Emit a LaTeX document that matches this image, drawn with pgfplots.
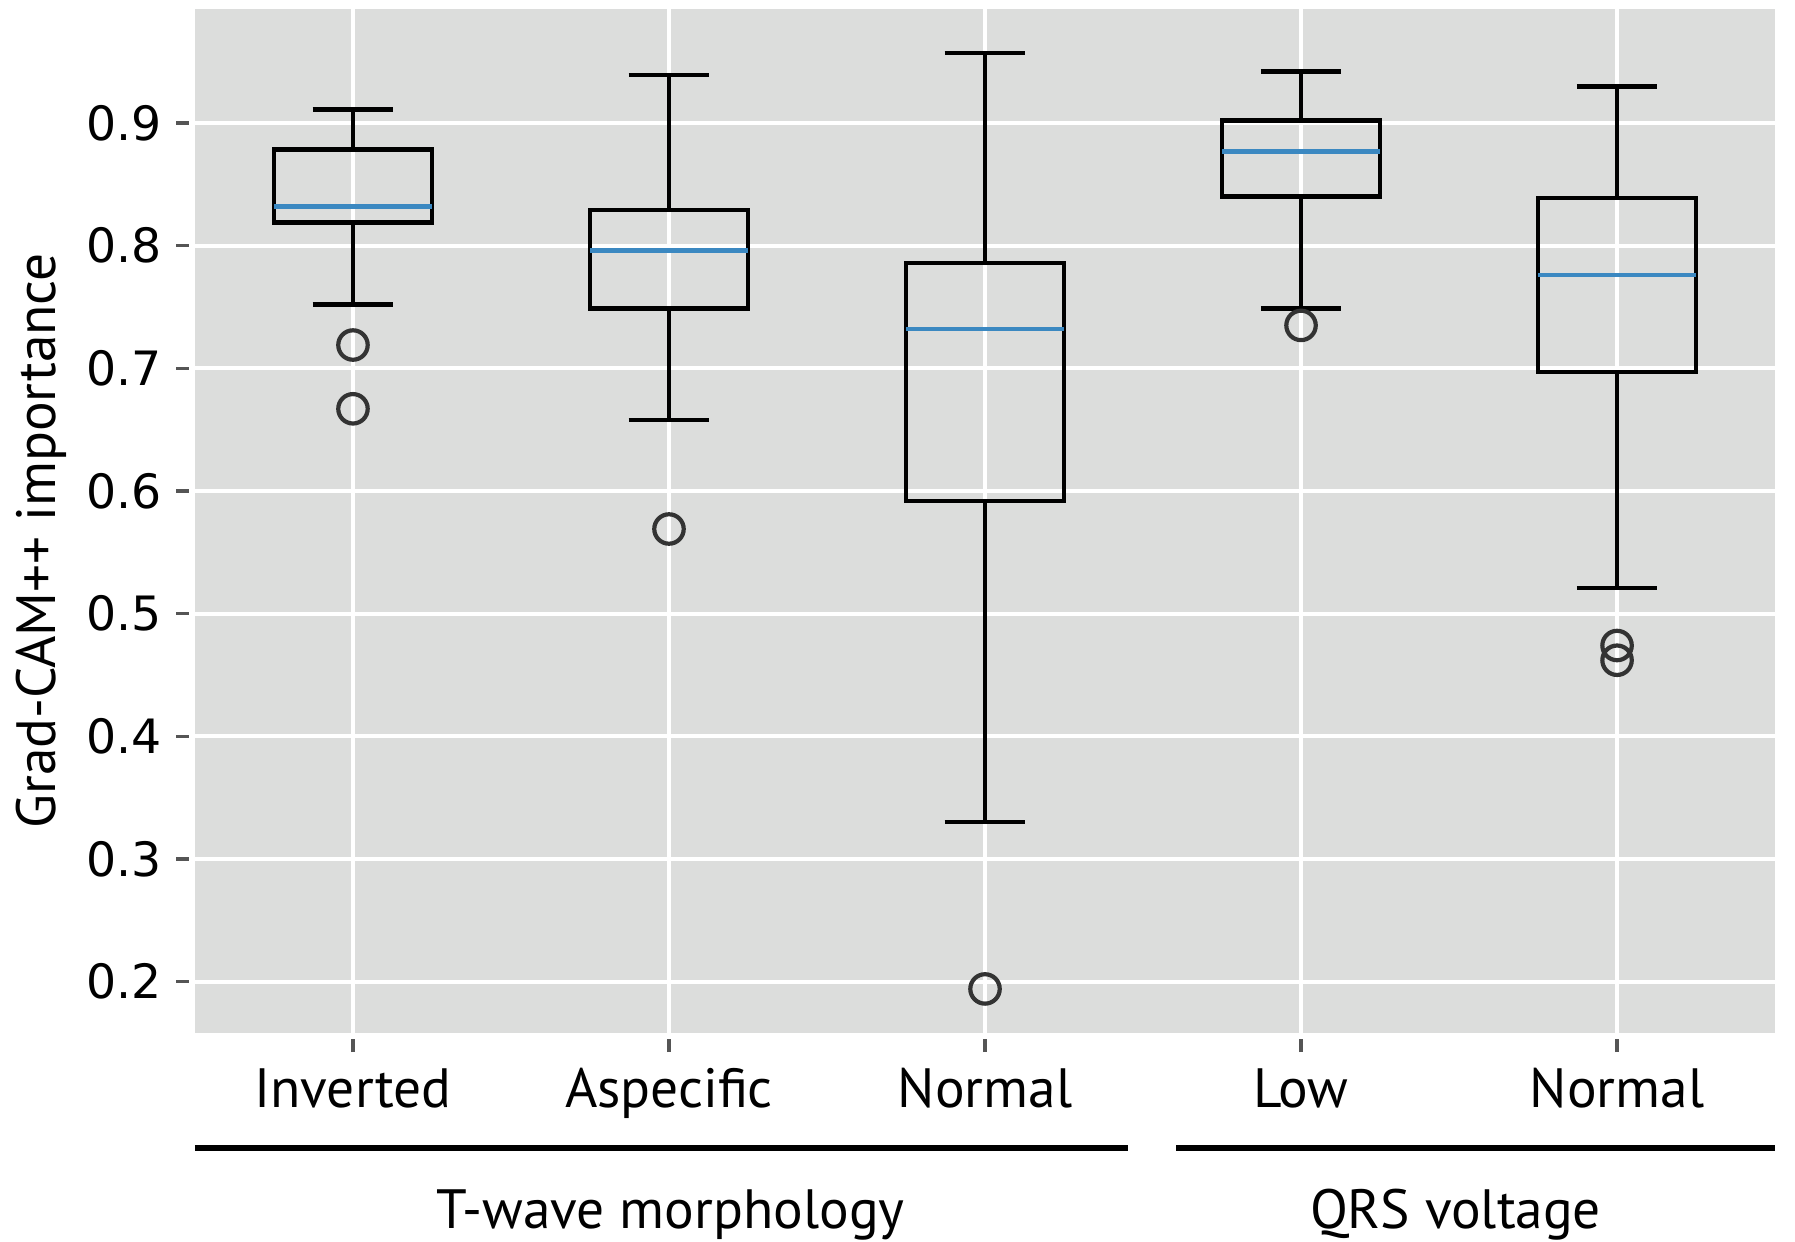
\documentclass[border=0pt]{standalone}
\usepackage{fontspec}
\setmainfont{PT Sans}
\newfontfamily\dejavu{DejaVu Sans}
\usepackage{pgfplots}
\pgfplotsset{compat=1.18}
\usepgfplotslibrary{statistics}
\usetikzlibrary{calc}

\definecolor{bgc}{HTML}{DCDDDC}
\definecolor{medc}{HTML}{3B88C1}
\definecolor{outc}{HTML}{333333}
\definecolor{tickc}{HTML}{555555}

\begin{document}
\begin{tikzpicture}
\begin{axis}[
  name=ax,
  scale only axis,
  width=15.844cm, height=10.269cm,
  xmin=-0.5, xmax=4.5,
  ymin=0.158, ymax=0.993,
  xtick={0,1,2,3,4},
  xticklabels={Inverted,Aspecific,Normal,Low,Normal},
  ytick={0.2,0.3,0.4,0.5,0.6,0.7,0.8,0.9},
  yticklabel style={/pgf/number format/fixed,/pgf/number format/precision=1},
  /pgf/number format/assume math mode=true,
  axis line style={draw=none},
  axis background/.style={fill=bgc},
  grid=major,
  major grid style={draw=white, line width=1.1pt},
  tick align=outside,
  xtick pos=bottom, ytick pos=left,
  major tick length=0.13cm,
  xtick style={draw=tickc, line width=1pt, yshift=-0.06cm},
  ytick style={draw=tickc, line width=1pt, xshift=-0.06cm},
  xticklabel style={font=\fontsize{15.8}{18}\selectfont, anchor=base, inner sep=0pt, yshift=-0.62cm},
  yticklabel style={font=\dejavu\fontsize{13.5}{16}\selectfont, anchor=east, inner sep=0pt, xshift=-0.2cm},
  every axis y label/.style={at={(axis description cs:-0.0975,0.4805)}, rotate=90, anchor=center, font=\fontsize{15.8}{18}\selectfont},
  ylabel={Grad-CAM++ importance},
  clip=false,
  boxplot/draw direction=y,
  boxplot/every box/.style={draw=black, line width=1.3pt},
  boxplot/every whisker/.style={draw=black, line width=1.3pt},
  boxplot/every median/.style={draw=medc, line width=1.3pt},
  every axis plot/.append style={mark=o, mark size=4.2pt, mark options={draw=outc, line width=1.2pt}},
]
% T-wave: Inverted
\addplot[black, boxplot prepared={draw position=0, lower whisker=0.752, lower quartile=0.819, median=0.832, upper quartile=0.8785, upper whisker=0.911, box extend=0.5, whisker extend=0.255}]
  table[row sep=\\, y index=0] {v\\ 0.719\\ 0.667\\};
% T-wave: Aspecific
\addplot[black, boxplot prepared={draw position=1, lower whisker=0.658, lower quartile=0.749, median=0.796, upper quartile=0.829, upper whisker=0.939, box extend=0.5, whisker extend=0.255}]
  table[row sep=\\, y index=0] {v\\ 0.569\\};
% T-wave: Normal
\addplot[black, boxplot prepared={draw position=2, lower whisker=0.330, lower quartile=0.592, median=0.732, upper quartile=0.786, upper whisker=0.957, box extend=0.5, whisker extend=0.255}]
  table[row sep=\\, y index=0] {v\\ 0.194\\};
% QRS: Low
\addplot[black, boxplot prepared={draw position=3, lower whisker=0.749, lower quartile=0.840, median=0.877, upper quartile=0.902, upper whisker=0.942, box extend=0.5, whisker extend=0.255}]
  table[row sep=\\, y index=0] {v\\ 0.735\\};
% QRS: Normal
\addplot[black, boxplot prepared={draw position=4, lower whisker=0.521, lower quartile=0.697, median=0.776, upper quartile=0.839, upper whisker=0.930, box extend=0.5, whisker extend=0.255}]
  table[row sep=\\, y index=0] {v\\ 0.474\\ 0.462\\};

% group brackets and labels
\draw[line width=1.5pt] ([yshift=-1.153cm]axis cs:-0.5,0.158) -- ([yshift=-1.153cm]axis cs:2.453,0.158);
\draw[line width=1.5pt] ([yshift=-1.153cm]axis cs:2.605,0.158) -- ([yshift=-1.153cm]axis cs:4.5,0.158);
\node[anchor=base, font=\fontsize{15.8}{18}\selectfont, inner sep=0pt] at ([yshift=-1.96cm]axis cs:1.005,0.158) {T-wave morphology};
\node[anchor=base, font=\fontsize{15.8}{18}\selectfont, inner sep=0pt] at ([yshift=-1.96cm]axis cs:3.489,0.158) {QRS voltage};
\end{axis}
\pgfresetboundingbox
\path[use as bounding box] ($(ax.south west)+(-1.955,-2.086)$) rectangle ($(ax.north east)+(0.2,0.09)$);
\end{tikzpicture}
\end{document}
